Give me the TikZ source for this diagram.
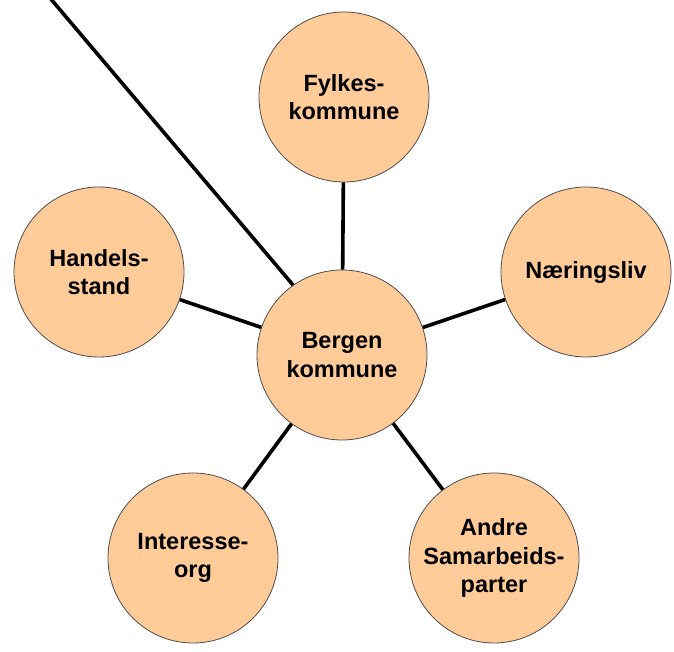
\documentclass[tikz,border=0pt]{standalone}
\usepackage{fontspec}
\setmainfont{Liberation Sans}
\definecolor{peach}{HTML}{FFCC99}
\tikzset {bubble/.style={circle,draw=black!70,line width=.8pt,fill=peach,
    minimum size=170pt,inner sep=0pt,align=center,
    font=\bfseries\fontsize{23.5}{28.5}\selectfont},
  spoke/.style={line width=3.6pt}}

\begin{document}
\begin{tikzpicture}[x=1pt,y=1pt]
\useasboundingbox (0,0) rectangle (674,652);
\clip (0,0) rectangle (674,652);
\node[bubble] (bergen) at (342,297) {Bergen\\kommune};
\node[bubble] (fylke) at (344,555) {Fylkes-\\kommune};
\node[bubble] (handel) at (99,380) {Handels-\\stand};
\node[bubble] (naering) at (586,380) {Næringsliv};
\node[bubble] (interesse) at (193,94) {Interesse-\\org};
\node[bubble] (andre) at (494,94) {Andre\\Samarbeids-\\parter};
\foreach \n in {fylke,handel,naering,interesse,andre}
  \draw[spoke] (bergen) -- (\n);
% line out of the top edge
\coordinate (out) at (28,680);
\draw[spoke] (out) -- (bergen.125);
\end{tikzpicture}
\end{document}
